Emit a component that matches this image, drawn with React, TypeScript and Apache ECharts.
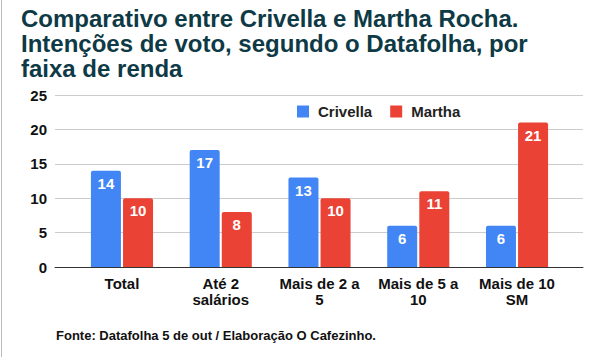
import React, { useEffect, useRef } from "react";
import * as echarts from "echarts";

const categories = ["Total", "Até 2\nsalários", "Mais de 2 a\n5", "Mais de 5 a\n10", "Mais de 10\nSM"];
const crivella = [14, 17, 13, 6, 6];
const martha = [10, 8, 10, 11, 21];
const yTicks = [0, 5, 10, 15, 20, 25];

const FONT = "Liberation Sans, Arial, sans-serif";

export default function App() {
  const ref = useRef<HTMLDivElement>(null);
  useEffect(() => {
    if (!ref.current) return;
    const chart = echarts.init(ref.current, undefined, { renderer: "svg" });
    const yMin = yTicks[0];
    const yMax = yTicks[yTicks.length - 1];
    const label = {
      show: true,
      position: "insideTop",
      distance: 5,
      color: "#fff",
      fontWeight: "bold",
      fontSize: 15,
      fontFamily: FONT,
    };
    chart.setOption({
      animation: false,
      backgroundColor: "#fff",
      textStyle: { fontFamily: FONT },
      title: {
        text: "Comparativo entre Crivella e Martha Rocha.\nIntenções de voto, segundo o Datafolha, por\nfaixa de renda",
        left: 16,
        top: 1,
        textStyle: {
          fontFamily: FONT,
          fontSize: 24,
          fontWeight: "bold",
          color: "#0e3a46",
          lineHeight: 25,
        },
      },
      legend: {
        top: 99,
        left: 292,
        itemWidth: 12,
        itemHeight: 12,
        itemGap: 18,
        icon: "rect",
        textStyle: {
          fontFamily: FONT,
          fontSize: 15,
          fontWeight: "bold",
          color: "#222",
          padding: [0, 0, 0, 4],
        },
        data: ["Crivella", "Martha"],
      },
      grid: [
        { left: 55, right: 13, top: 95, bottom: 90, containLabel: false },
        { left: 72.6, right: 29.6, top: 95, bottom: 90, containLabel: false },
      ],
      xAxis: [
        {
          type: "value",
          gridIndex: 0,
          min: 0,
          max: 1,
          axisLabel: { show: false },
          axisTick: { show: false },
          splitLine: { show: false },
          axisLine: { show: true, lineStyle: { color: "#333", width: 1 } },
        },
        {
          type: "category",
          gridIndex: 1,
          data: categories,
          axisTick: { show: false },
          axisLine: { show: false },
          axisLabel: {
            color: "#111",
            fontWeight: "bold",
            fontSize: 15,
            fontFamily: FONT,
            lineHeight: 16,
            margin: 8,
            interval: 0,
          },
        },
      ],
      yAxis: [
        {
          type: "value",
          gridIndex: 0,
          min: yMin,
          max: yMax,
          interval: 5,
          axisLine: { show: false },
          axisTick: { show: false },
          axisLabel: {
            color: "#111",
            fontWeight: "bold",
            fontSize: 15,
            fontFamily: FONT,
            margin: 8,
          },
          splitLine: { lineStyle: { color: "#ccc" } },
        },
        {
          type: "value",
          gridIndex: 1,
          min: yMin,
          max: yMax,
          interval: 5,
          show: false,
          splitLine: { show: false },
        },
      ],
      series: [
        {
          name: "Crivella",
          type: "bar",
          xAxisIndex: 1,
          yAxisIndex: 1,
          data: crivella,
          barWidth: 30,
          barGap: "7%",
          itemStyle: { color: "#4285f4", borderRadius: [2, 2, 0, 0] },
          label,
        },
        {
          name: "Martha",
          type: "bar",
          xAxisIndex: 1,
          yAxisIndex: 1,
          data: martha,
          barWidth: 30,
          barGap: "7%",
          itemStyle: { color: "#ea4335", borderRadius: [2, 2, 0, 0] },
          label,
        },
      ],
      graphic: [
        {
          type: "text",
          left: 56,
          top: 329,
          style: {
            text: "Fonte: Datafolha 5 de out / Elaboração O Cafezinho.",
            font: "bold 13px " + FONT,
            fill: "#111",
          },
        },
        {
          type: "line",
          shape: { x1: 1.5, y1: 0, x2: 1.5, y2: 357 },
          style: { stroke: "#bbb", lineWidth: 1 },
        },
      ],
    });
    return () => chart.dispose();
  }, []);
  return <div ref={ref} style={{ width: 596, height: 357, position: "fixed", left: 0, top: 0 }} />;
}
